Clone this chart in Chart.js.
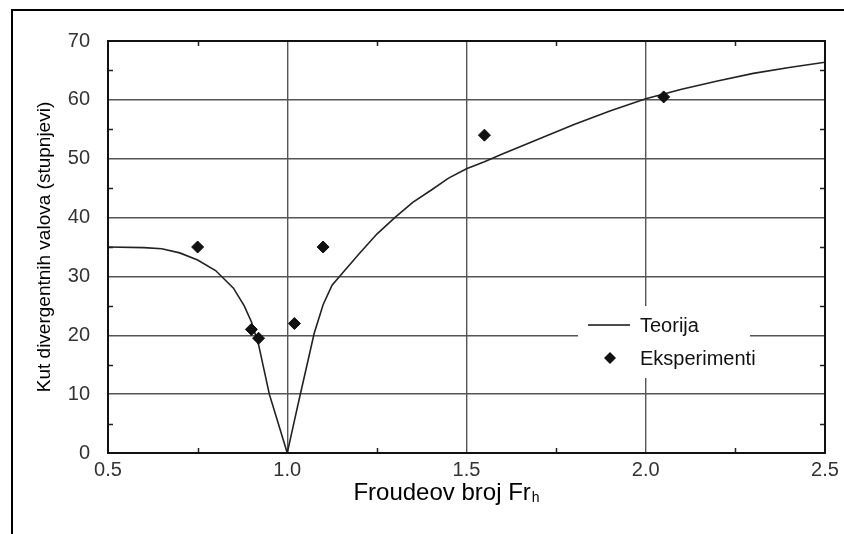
<!DOCTYPE html>
<html>
<head>
<meta charset="utf-8">
<script src="https://cdn.jsdelivr.net/npm/chart.js@4"></script>
<style>
  body { margin: 0; background: #fff; }
  canvas { display: block; }
</style>
</head>
<body>
<canvas id="graph" width="844" height="534"></canvas>
<script>
// Teorija
let theoryFr = [0.5, 0.6, 0.65, 0.7, 0.75, 0.8, 0.85, 0.88, 0.9, 0.92, 0.95, 0.975, 1.0,
  1.02, 1.035, 1.05, 1.075, 1.1, 1.125, 1.15, 1.2, 1.25, 1.3, 1.35, 1.4, 1.45, 1.5,
  1.55, 1.6, 1.7, 1.8, 1.9, 2.0, 2.1, 2.2, 2.3, 2.4, 2.5];
let theoryAngle = [35.0, 34.9, 34.7, 34.0, 32.8, 31.0, 28.0, 25.0, 22.3, 18.4, 10.0, 5.0, 0,
  5.5, 9.6, 13.6, 20.3, 25.2, 28.5, 30.3, 33.8, 37.2, 40.0, 42.6, 44.6, 46.7, 48.3,
  49.5, 50.8, 53.3, 55.8, 58.1, 60.2, 61.8, 63.2, 64.5, 65.5, 66.4];

// Eksperimenti
let expFr = [0.75, 0.9, 0.92, 1.02, 1.1, 1.55, 2.05];
let expAngle = [35, 21, 19.5, 22, 35, 54, 60.5];

let xTicks = [0.5, 1.0, 1.5, 2.0, 2.5];
let yTicks = [0, 10, 20, 30, 40, 50, 60, 70];
let xMinor = [0.75, 1.25, 1.75, 2.25];
let yMinor = [5, 15, 25, 35, 45, 55, 65];

let legendLabels = ["Teorija", "Eksperimenti"];
let xTitle = "Froudeov broj Fr";
let xTitleSub = "h";
let yTitle = "Kut divergentnih valova (stupnjevi)";

const FONT = '"Liberation Sans", Arial, sans-serif';

const framePlugin = {
  id: 'frame',
  beforeDraw(chart) {
    const ctx = chart.ctx;
    ctx.save();
    ctx.fillStyle = '#fff';
    ctx.fillRect(0, 0, chart.width, chart.height);
    // outer frame (left + top only)
    ctx.strokeStyle = '#000';
    ctx.lineWidth = 2;
    ctx.beginPath();
    ctx.moveTo(12, chart.height);
    ctx.lineTo(12, 10);
    ctx.lineTo(chart.width, 10);
    ctx.stroke();
    ctx.restore();
  },
  afterDatasetsDraw(chart) {
    const ctx = chart.ctx;
    const a = chart.chartArea;
    const x = chart.scales.x, y = chart.scales.y;
    ctx.save();

    // minor ticks, inward
    ctx.strokeStyle = '#222';
    ctx.lineWidth = 1.5;
    ctx.beginPath();
    xMinor.forEach(v => {
      let px = Math.round(x.getPixelForValue(v)) + 0.5;
      ctx.moveTo(px, a.bottom); ctx.lineTo(px, a.bottom - 5);
      ctx.moveTo(px, a.top); ctx.lineTo(px, a.top + 5);
    });
    yMinor.forEach(v => {
      let py = Math.round(y.getPixelForValue(v)) + 0.5;
      ctx.moveTo(a.left, py); ctx.lineTo(a.left + 5, py);
      ctx.moveTo(a.right, py); ctx.lineTo(a.right - 5, py);
    });
    ctx.stroke();

    // plot frame
    ctx.strokeStyle = '#111';
    ctx.lineWidth = 2;
    ctx.strokeRect(a.left, a.top, a.right - a.left, a.bottom - a.top);

    // legend inside plot
    ctx.fillStyle = '#fff';
    ctx.fillRect(578, 306, 172, 72);
    ctx.strokeStyle = '#111';
    ctx.lineWidth = 1.5;
    ctx.beginPath();
    ctx.moveTo(588, 325); ctx.lineTo(630, 325);
    ctx.stroke();
    ctx.fillStyle = '#111';
    ctx.beginPath();
    ctx.moveTo(610, 352); ctx.lineTo(616, 358); ctx.lineTo(610, 364); ctx.lineTo(604, 358);
    ctx.closePath();
    ctx.fill();
    ctx.font = '20px ' + FONT;
    ctx.textBaseline = 'middle';
    ctx.textAlign = 'left';
    ctx.fillText(legendLabels[0], 640, 326);
    ctx.fillText(legendLabels[1], 640, 359);

    // x axis title with subscript
    ctx.fillStyle = '#000';
    ctx.font = '24px ' + FONT;
    let w1 = ctx.measureText(xTitle).width;
    ctx.font = '14px ' + FONT;
    let w2 = ctx.measureText(xTitleSub).width;
    let sx = 446 - (w1 + w2) / 2;
    ctx.textBaseline = 'alphabetic';
    ctx.font = '24px ' + FONT;
    ctx.fillText(xTitle, sx, 500);
    ctx.font = '14px ' + FONT;
    ctx.fillText(xTitleSub, sx + w1 + 1, 502);

    ctx.restore();
  }
};

const ctx = document.getElementById('graph');

const data = {
  datasets: [
    {
      label: legendLabels[0],
      data: theoryFr.map((v, i) => ({ x: v, y: theoryAngle[i] })),
      showLine: true,
      borderColor: '#222',
      borderWidth: 1.6,
      pointRadius: 0,
      tension: 0,
      order: 2
    },
    {
      label: legendLabels[1],
      data: expFr.map((v, i) => ({ x: v, y: expAngle[i] })),
      showLine: false,
      pointStyle: 'rectRot',
      pointRadius: 6,
      backgroundColor: '#111',
      borderColor: '#111',
      borderWidth: 1,
      order: 1
    }
  ]
};

const config = {
  type: 'scatter',
  data: data,
  plugins: [framePlugin],
  options: {
    responsive: false,
    animation: false,
    layout: { padding: { left: 0, right: 19, top: 41, bottom: 0 } },
    plugins: {
      legend: { display: false },
      tooltip: { enabled: false }
    },
    scales: {
      x: {
        type: 'linear',
        min: 0.5,
        max: 2.5,
        afterBuildTicks: s => { s.ticks = xTicks.map(v => ({ value: v })); },
        afterFit: s => { s.height = 81; },
        grid: { color: '#555', lineWidth: 1.4, drawTicks: false },
        border: { display: false },
        ticks: {
          padding: 5,
          color: '#333',
          font: { family: FONT, size: 20 },
          callback: v => Number(v).toFixed(1)
        },
        title: { display: false }
      },
      y: {
        min: 0,
        max: 70,
        afterBuildTicks: s => { s.ticks = yTicks.map(v => ({ value: v })); },
        afterFit: s => { s.width = 108; },
        grid: { color: '#555', lineWidth: 1.4, drawTicks: false },
        border: { display: false },
        ticks: {
          padding: 18,
          color: '#333',
          font: { family: FONT, size: 20 }
        },
        title: {
          display: true,
          text: yTitle,
          color: '#000',
          font: { family: FONT, size: 19 },
          padding: { top: 33, bottom: 0 }
        }
      }
    }
  }
};

new Chart(ctx, config);
</script>
</body>
</html>
